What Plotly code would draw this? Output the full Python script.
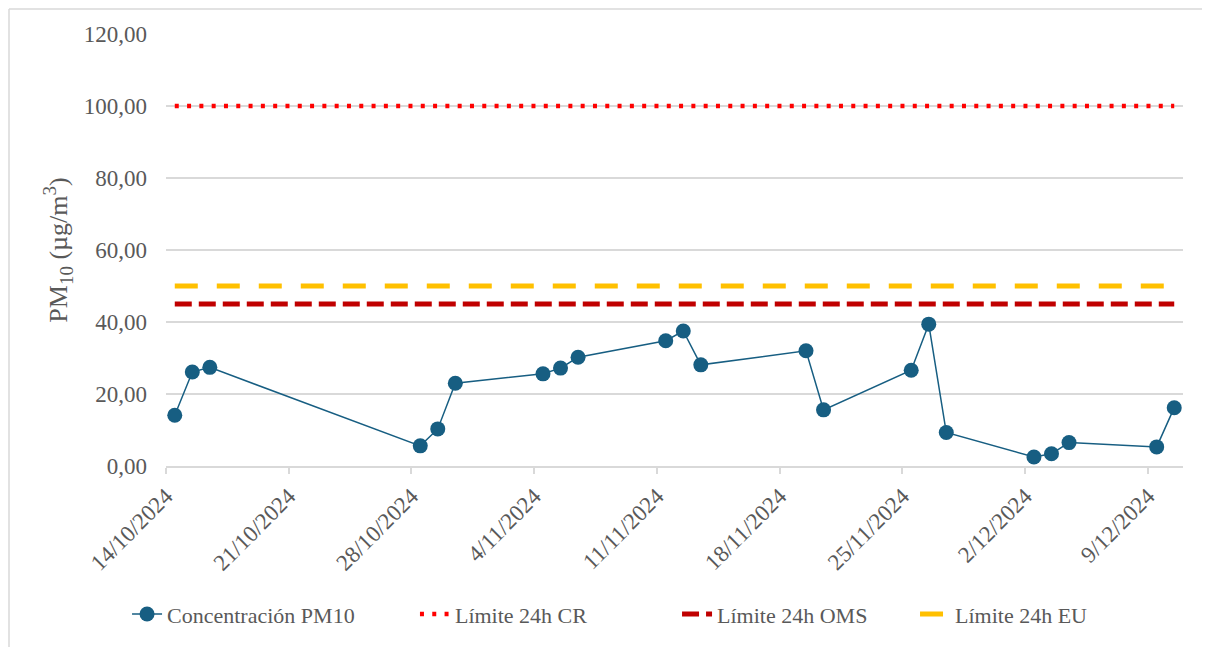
import pandas as pd
import plotly.graph_objects as go

# ---- data ----
fechas = ["2024-10-14", "2024-10-15", "2024-10-16", "2024-10-28", "2024-10-29", "2024-10-30",
          "2024-11-04", "2024-11-05", "2024-11-06", "2024-11-11", "2024-11-12", "2024-11-13",
          "2024-11-19", "2024-11-20", "2024-11-25", "2024-11-26", "2024-11-27",
          "2024-12-02", "2024-12-03", "2024-12-04", "2024-12-09", "2024-12-10"]
pm10 = [14.1, 26.1, 27.4, 5.6, 10.3, 23.0,
        25.6, 27.2, 30.2, 34.8, 37.5, 28.1,
        32.0, 15.6, 26.6, 39.4, 9.3,
        2.5, 3.4, 6.5, 5.3, 16.2]
limite_cr = 100
limite_oms = 45
limite_eu = 50
tick_fechas = ["2024-10-14", "2024-10-21", "2024-10-28", "2024-11-04", "2024-11-11",
               "2024-11-18", "2024-11-25", "2024-12-02", "2024-12-09"]
tick_labels = ["14/10/2024", "21/10/2024", "28/10/2024", "4/11/2024", "11/11/2024",
               "18/11/2024", "25/11/2024", "2/12/2024", "9/12/2024"]
y_ticks = [0, 20, 40, 60, 80, 100, 120]
y_labels = ["0,00", "20,00", "40,00", "60,00", "80,00", "100,00", "120,00"]

# points are centred in their day (date axis, between tick marks)
x = pd.to_datetime(fechas) + pd.Timedelta(hours=12)

FONT = "Liberation Serif"
GREY = "#595959"
GRID = "#d9d9d9"

# page body adds an 8px offset; figure sized to fit in the window
W, H = 1202, 639
L, T = 158, 26
PW, PH = 1017, 432

fig = go.Figure()
fig.add_trace(go.Scatter(
    x=x, y=pm10, name="Concentración PM10", mode="lines+markers",
    line=dict(color="#175E82", width=1.5),
    marker=dict(size=15, color="#175E82"), legend="legend",
))
fig.add_trace(go.Scatter(
    x=x, y=[limite_cr] * len(x), name="Límite 24h CR", mode="lines",
    line=dict(color="#FF0000", width=4.5, dash="4px,8.3px"), legend="legend2",
))
fig.add_trace(go.Scatter(
    x=x, y=[limite_oms] * len(x), name="Límite 24h OMS", mode="lines",
    line=dict(color="#C00000", width=5, dash="17px,7px"), legend="legend3",
))
fig.add_trace(go.Scatter(
    x=x, y=[limite_eu] * len(x), name="Límite 24h EU", mode="lines",
    line=dict(color="#FFC000", width=5, dash="23px,19px"), legend="legend4",
))

def leg(xpos):
    return dict(orientation="h", x=xpos, xanchor="left", y=-0.343, yanchor="middle",
                font=dict(family=FONT, size=22, color=GREY), bgcolor="rgba(0,0,0,0)")

bx0 = (1 - L) / PW
bx1 = (W + 10 - L) / PW
by0 = (T + PH - H - 10) / PH
by1 = (T + PH - 1) / PH
border = dict(color=GRID, width=1.5)

fig.update_layout(
    width=W, height=H,
    margin=dict(l=L, r=W - L - PW, t=T, b=H - T - PH),
    paper_bgcolor="white", plot_bgcolor="white",
    font=dict(family=FONT, size=22, color=GREY),
    showlegend=True,
    legend=leg(-0.0383), legend2=leg(0.2448), legend3=leg(0.5025), legend4=leg(0.7365),
    shapes=[
        dict(type="line", xref="paper", yref="paper", x0=bx0, x1=bx1, y0=by1, y1=by1,
             line=border, layer="below"),
        dict(type="line", xref="paper", yref="paper", x0=bx0, x1=bx0, y0=by0, y1=by1,
             line=border, layer="below"),
    ],
)
fig.update_xaxes(
    type="date", range=["2024-10-14", "2024-12-11"],
    tickvals=pd.to_datetime(tick_fechas), ticktext=tick_labels, tickangle=-45,
    showgrid=False, showline=True, linecolor=GRID, linewidth=1.5,
    ticks="outside", ticklen=6, tickcolor=GRID, tickwidth=1.5,
    tickfont=dict(family=FONT, size=23, color=GREY),
)
fig.update_yaxes(
    range=[0, 120], tickvals=y_ticks, ticktext=y_labels,
    showgrid=True, gridcolor=GRID, gridwidth=1.5, zeroline=False,
    showline=False, ticks="", ticklabelstandoff=18,
    tickfont=dict(family=FONT, size=23, color=GREY),
    title=dict(text="PM<sub><span style='font-size:19px'>10</span></sub> "
                    "(µg/m<sup><span style='font-size:19px'>3</span></sup>)",
               standoff=8, font=dict(family=FONT, size=26, color=GREY)),
)

fig.write_html("out.html")
